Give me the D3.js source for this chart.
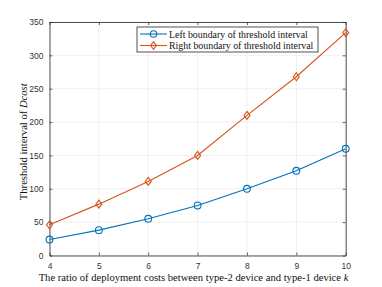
<!DOCTYPE html>
<html><head><meta charset="utf-8">
<script src="https://cdn.jsdelivr.net/npm/d3@7"></script>
<style>body{margin:0;background:#fff}svg{display:block}</style>
</head><body>
<script>
const kValues = [4,5,6,7,8,9,10];
const leftBoundary = [24,38,55,75,100,127,160];
const rightBoundary = [46,77,111,150,210,268,334];
const xTicks = [4,5,6,7,8,9,10];
const yTicks = [0,50,100,150,200,250,300,350];
const seriesNames = ["Left boundary of threshold interval","Right boundary of threshold interval"];

const W=382,H=287;
const m={l:49.5,r:36.3,t:22,b:31.5};
const svg=d3.select("body").append("svg").attr("width",W).attr("height",H);
const x=d3.scaleLinear().domain([4,10]).range([m.l,W-m.r]);
const y=d3.scaleLinear().domain([0,350]).range([H-m.b,m.t]);
const axisCol="#262626";

// grid
const g=svg.append("g");
g.selectAll(".gx").data(xTicks).join("line")
 .attr("x1",d=>x(d)).attr("x2",d=>x(d)).attr("y1",y(0)).attr("y2",y(350))
 .attr("stroke","#e6e6e6").attr("stroke-width",0.6);
g.selectAll(".gy").data(yTicks).join("line")
 .attr("y1",d=>y(d)).attr("y2",d=>y(d)).attr("x1",x(4)).attr("x2",x(10))
 .attr("stroke","#e6e6e6").attr("stroke-width",0.6);

// axes
const fontSans="Liberation Sans, Arial, sans-serif";
const fmt=d3.format("d");
const xa=svg.append("g").attr("transform",`translate(0,${y(0)})`)
 .call(d3.axisBottom(x).tickValues(xTicks).tickFormat(fmt).tickSizeInner(-3).tickSizeOuter(0).tickPadding(7));
const ya=svg.append("g").attr("transform",`translate(${x(4)},0)`)
 .call(d3.axisLeft(y).tickValues(yTicks).tickFormat(fmt).tickSizeInner(-3).tickSizeOuter(0).tickPadding(6));
const xt=svg.append("g").attr("transform",`translate(0,${y(350)})`)
 .call(d3.axisTop(x).tickValues(xTicks).tickSizeInner(-3).tickSizeOuter(0).tickFormat(""));
const yr=svg.append("g").attr("transform",`translate(${x(10)},0)`)
 .call(d3.axisRight(y).tickValues(yTicks).tickSizeInner(-3).tickSizeOuter(0).tickFormat(""));
[xa,ya,xt,yr].forEach(a=>{
 a.select(".domain").attr("stroke",axisCol).attr("stroke-width",0.8);
 a.selectAll(".tick line").attr("stroke",axisCol).attr("stroke-width",0.7);
 a.selectAll("text").attr("fill","#333").style("font-family",fontSans).style("font-size","8.5px");
});

// lines
const colors=["#0072BD","#D95319"];
const data=[leftBoundary,rightBoundary];
const line=d3.line().x((d,i)=>x(kValues[i])).y(d=>y(d));
data.forEach((s,si)=>{
 svg.append("path").datum(s).attr("d",line).attr("fill","none")
  .attr("stroke",colors[si]).attr("stroke-width",1.1);
 if(si===0){
  svg.selectAll(".c"+si).data(s).join("circle")
   .attr("cx",(d,i)=>x(kValues[i])).attr("cy",d=>y(d)).attr("r",3.4)
   .attr("fill","none").attr("stroke",colors[si]).attr("stroke-width",1.1);
 } else {
  svg.selectAll(".d"+si).data(s).join("path")
   .attr("d",(d,i)=>{const cx=x(kValues[i]),cy=y(d),r=4;return `M${cx},${cy-r}L${cx+r*0.75},${cy}L${cx},${cy+r}L${cx-r*0.75},${cy}Z`;})
   .attr("fill","none").attr("stroke",colors[si]).attr("stroke-width",1.1);
 }
});

// legend
const fontSerif="Liberation Serif, Times New Roman, serif";
const lg=svg.append("g");
const lx=137,ly=27,lw=181,lh=25;
lg.append("rect").attr("x",lx).attr("y",ly).attr("width",lw).attr("height",lh)
 .attr("fill","#fff").attr("stroke",axisCol).attr("stroke-width",0.8);
seriesNames.forEach((n,i)=>{
 const cy=ly+7+i*11.5;
 lg.append("line").attr("x1",lx+3).attr("x2",lx+30).attr("y1",cy).attr("y2",cy)
  .attr("stroke",colors[i]).attr("stroke-width",1.1);
 if(i===0) lg.append("circle").attr("cx",lx+16.5).attr("cy",cy).attr("r",3.2).attr("fill","none").attr("stroke",colors[i]).attr("stroke-width",1.1);
 else { const cx=lx+16.5,r=3.8; lg.append("path").attr("d",`M${cx},${cy-r}L${cx+r*0.75},${cy}L${cx},${cy+r}L${cx-r*0.75},${cy}Z`).attr("fill","none").attr("stroke",colors[i]).attr("stroke-width",1.1);}
 lg.append("text").attr("x",lx+32).attr("y",cy+3.5).text(n)
  .style("font-family",fontSerif).style("font-size","9.9px").attr("fill","#111");
});

// axis titles
svg.append("text").attr("x",193.5).attr("y",281).attr("text-anchor","middle")
 .style("font-family",fontSerif).style("font-size","10.6px").attr("fill","#111")
 .call(t=>{t.append("tspan").text("The ratio of deployment costs between type-2 device and type-1 device ");
  t.append("tspan").style("font-style","italic").text("k");});
svg.append("text").attr("transform",`translate(26.5,${(y(0)+y(350))/2+3}) rotate(-90)`).attr("text-anchor","middle")
 .style("font-family",fontSerif).style("font-size","10.6px").attr("fill","#111")
 .call(t=>{t.append("tspan").text("Threshold interval of ");
  t.append("tspan").style("font-style","italic").text("Dcost");});
</script>
</body></html>
